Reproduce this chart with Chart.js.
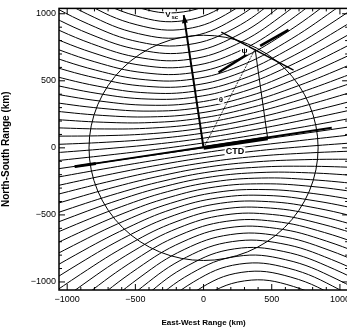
<!DOCTYPE html>
<html>
<head>
<meta charset="utf-8">
<script src="https://cdn.jsdelivr.net/npm/chart.js@4/dist/chart.umd.min.js"></script>
<style>
html, body { margin: 0; padding: 0; background: #fff; overflow: hidden; width: 347px; height: 332px; }
</style>
</head>
<body>
<canvas id="grafico" width="354" height="332"></canvas>
<script>
// isolinhas, pontos [x km, y km]
var isolinhaZero = [[-1088, -159], [1088, 159]];

var isolinhasNorte = [
    [[-1097, -98], [-700, -54], [-352, -12], [-5, 36], [340, 90], [686, 148], [1079, 220], [1571, 311]],
    [[-1106, -38], [-707, -6], [-357, 27], [-10, 71], [335, 129], [679, 196], [1070, 280], [1560, 390]],
    [[-1115, 24], [-714, 42], [-363, 67], [-16, 108], [329, 169], [672, 244], [1061, 342], [1548, 472]],
    [[-1124, 87], [-721, 91], [-369, 107], [-21, 145], [323, 209], [665, 293], [1052, 405], [1536, 554]],
    [[-1133, 151], [-728, 141], [-375, 148], [-27, 182], [317, 250], [658, 343], [1043, 469], [1524, 638]],
    [[-1143, 215], [-736, 191], [-381, 189], [-32, 220], [311, 291], [650, 393], [1034, 533], [1511, 722]],
    [[-1152, 280], [-743, 242], [-387, 231], [-38, 258], [305, 333], [643, 444], [1024, 598], [1499, 809]],
    [[-1162, 347], [-751, 295], [-393, 274], [-44, 298], [299, 376], [635, 497], [1014, 665], [1486, 897]],
    [[-1172, 416], [-759, 349], [-400, 318], [-49, 338], [292, 420], [627, 551], [1004, 734], [1473, 988]],
    [[-1182, 487], [-767, 404], [-407, 364], [-55, 380], [286, 466], [619, 606], [994, 805], [1459, 1081]],
    [[-1193, 559], [-775, 460], [-413, 410], [-62, 423], [279, 512], [611, 662], [983, 877], [1445, 1176]],
    [[-1204, 635], [-784, 520], [-420, 459], [-68, 467], [272, 561], [602, 722], [972, 953], [1431, 1275]],
    [[-1215, 713], [-792, 580], [-428, 508], [-75, 513], [264, 610], [594, 782], [961, 1031], [1416, 1377]],
    [[-1227, 793], [-802, 643], [-435, 560], [-82, 560], [257, 662], [584, 845], [949, 1111], [1400, 1483]],
    [[-1239, 877], [-811, 709], [-443, 614], [-89, 610], [249, 716], [575, 911], [937, 1195], [1384, 1594]],
    [[-1252, 965], [-821, 777], [-451, 670], [-97, 661], [241, 772], [565, 979], [924, 1283], [1367, 1709]],
    [[-1265, 1056], [-832, 848], [-460, 729], [-104, 714], [232, 831], [555, 1050], [911, 1374], [1350, 1829]],
    [[-1279, 1150], [-842, 922], [-469, 789], [-112, 770], [223, 891], [544, 1124], [897, 1468], [1332, 1952]],
    [[-1293, 1248], [-853, 998], [-478, 852], [-121, 827], [214, 954], [533, 1200], [883, 1566], [1313, 2081]],
    [[-1308, 1348], [-865, 1077], [-487, 917], [-129, 887], [205, 1019], [521, 1279], [868, 1666], [1294, 2214]],
    [[-1323, 1454], [-877, 1160], [-497, 985], [-139, 949], [195, 1087], [509, 1362], [853, 1772], [1273, 2353]],
    [[-1340, 1566], [-890, 1247], [-508, 1056], [-148, 1014], [185, 1158], [496, 1449], [836, 1884], [1252, 2499]]
];

var isolinhasSul = [
    [[-1566, -310], [-1074, -219], [-681, -148], [-335, -89], [11, -35], [357, 13], [705, 54], [1102, 99]],
    [[-1549, -389], [-1060, -279], [-669, -194], [-324, -127], [21, -70], [368, -25], [718, 8], [1116, 39]],
    [[-1532, -470], [-1045, -340], [-656, -242], [-313, -166], [32, -106], [379, -64], [730, -40], [1131, -22]],
    [[-1514, -551], [-1031, -402], [-643, -290], [-301, -206], [43, -141], [391, -104], [743, -88], [1146, -84]],
    [[-1496, -634], [-1016, -465], [-630, -339], [-290, -246], [54, -178], [402, -144], [756, -137], [1161, -147]],
    [[-1478, -717], [-1001, -528], [-618, -388], [-278, -286], [65, -215], [414, -184], [769, -186], [1175, -210]],
    [[-1460, -803], [-985, -592], [-604, -439], [-266, -327], [76, -253], [426, -225], [782, -237], [1191, -274]],
    [[-1441, -891], [-969, -659], [-591, -490], [-254, -370], [88, -291], [438, -268], [795, -288], [1207, -341]],
    [[-1422, -980], [-953, -727], [-577, -543], [-241, -413], [100, -331], [451, -311], [809, -341], [1223, -409]],
    [[-1402, -1072], [-937, -797], [-562, -598], [-229, -457], [112, -372], [464, -355], [824, -396], [1239, -479]],
    [[-1382, -1167], [-920, -868], [-548, -653], [-215, -503], [125, -413], [477, -401], [838, -451], [1256, -550]],
    [[-1361, -1265], [-902, -943], [-532, -711], [-202, -551], [138, -457], [490, -449], [854, -509], [1274, -625]],
    [[-1339, -1366], [-884, -1019], [-517, -771], [-188, -599], [152, -501], [505, -497], [869, -569], [1292, -701]],
    [[-1316, -1471], [-865, -1099], [-500, -833], [-173, -650], [166, -548], [519, -548], [886, -631], [1311, -781]],
    [[-1293, -1581], [-845, -1182], [-483, -898], [-158, -703], [180, -596], [535, -601], [903, -696], [1331, -864]],
    [[-1268, -1695], [-825, -1268], [-466, -965], [-142, -758], [196, -647], [550, -656], [920, -763], [1351, -950]],
    [[-1243, -1813], [-804, -1358], [-447, -1035], [-125, -815], [211, -699], [567, -713], [939, -833], [1372, -1040]],
    [[-1216, -1936], [-782, -1451], [-428, -1107], [-108, -874], [228, -753], [584, -772], [958, -905], [1395, -1133]],
    [[-1189, -2063], [-759, -1547], [-409, -1182], [-90, -936], [245, -809], [602, -834], [978, -980], [1417, -1229]],
    [[-1161, -2194], [-735, -1647], [-388, -1260], [-72, -999], [262, -867], [620, -897], [998, -1058], [1441, -1329]],
    [[-1131, -2332], [-710, -1752], [-367, -1341], [-53, -1066], [281, -928], [640, -964], [1019, -1139], [1466, -1434]],
    [[-1100, -2477], [-684, -1861], [-344, -1426], [-32, -1136], [300, -992], [660, -1034], [1042, -1224], [1492, -1543]]
];

var circuloCentro = [0, 0];
var circuloRaio = 840;

var linhaCTD = [[-945, -140], [940, 150]];
var trechoCTD = [[0, 0], [470, 72]];
var trechoEsq = [[-945, -140], [-790, -117]];
var vetorVsc = [[0, 0], [-145, 990]];
var linhaTheta = [[0, 0], [378, 737]];
var linhaVertical = [[378, 737], [470, 72]];
var tangente = [[130, 863], [660, 580]];
var grossaA = [[110, 562], [330, 703]];
var grossaB = [[415, 760], [623, 880]];

var ticksX = [-1000, -500, 0, 500, 1000];
var ticksY = [-1000, -500, 0, 500, 1000];

function pontos(par) {
    return par.map(function (p) { return { x: p[0], y: p[1] }; });
}

var datasets = [];

function isolinha(par) {
    datasets.push({
        data: pontos(par),
        showLine: true,
        borderColor: "#000",
        borderWidth: 1,
        pointRadius: 0,
        tension: 0.4
    });
}

isolinha(isolinhaZero);
isolinhasNorte.forEach(isolinha);
isolinhasSul.forEach(isolinha);

function reta(par, largura, tracejado) {
    datasets.push({
        data: pontos(par),
        showLine: true,
        borderColor: "#000",
        borderWidth: largura,
        borderDash: tracejado || [],
        pointRadius: 0
    });
}

reta(linhaCTD, 2);
reta(trechoCTD, 4);
reta(trechoEsq, 3);
reta(vetorVsc, 2);
reta(linhaTheta, 0.8, [2, 1]);
reta(linhaVertical, 1);
reta(tangente, 1.5);
reta(grossaA, 2.5);
reta(grossaB, 2.5);

var fonte = "'Liberation Sans', Arial, sans-serif";

var desenhos = {
    id: "desenhos",
    afterDatasetsDraw: function (chart) {
        var ctx = chart.ctx;
        var sx = chart.scales.x;
        var sy = chart.scales.y;
        var a = chart.chartArea;

        ctx.save();
        ctx.beginPath();
        ctx.rect(a.left, a.top, a.right - a.left, a.bottom - a.top);
        ctx.clip();

        // circulo
        var cx = sx.getPixelForValue(circuloCentro[0]);
        var cy = sy.getPixelForValue(circuloCentro[1]);
        var rx = sx.getPixelForValue(circuloCentro[0] + circuloRaio) - cx;
        var ry = cy - sy.getPixelForValue(circuloCentro[1] + circuloRaio);
        ctx.strokeStyle = "#000";
        ctx.lineWidth = 1;
        ctx.beginPath();
        ctx.ellipse(cx, cy, rx, ry, 0, 0, Math.PI * 2);
        ctx.stroke();

        // ponta da seta Vsc
        var x0 = sx.getPixelForValue(vetorVsc[0][0]);
        var y0 = sy.getPixelForValue(vetorVsc[0][1]);
        var x1 = sx.getPixelForValue(vetorVsc[1][0]);
        var y1 = sy.getPixelForValue(vetorVsc[1][1]);
        var ang = Math.atan2(y1 - y0, x1 - x0);
        ctx.fillStyle = "#000";
        ctx.beginPath();
        ctx.moveTo(x1, y1);
        ctx.lineTo(x1 - 8 * Math.cos(ang) + 3 * Math.sin(ang), y1 - 8 * Math.sin(ang) - 3 * Math.cos(ang));
        ctx.lineTo(x1 - 8 * Math.cos(ang) - 3 * Math.sin(ang), y1 - 8 * Math.sin(ang) + 3 * Math.cos(ang));
        ctx.closePath();
        ctx.fill();

        // textos com fundo branco
        function rotulo(txt, x, y, tam) {
            ctx.font = "bold " + tam + "px " + fonte;
            var w = ctx.measureText(txt).width;
            var px = sx.getPixelForValue(x);
            var py = sy.getPixelForValue(y);
            ctx.fillStyle = "#fff";
            ctx.fillRect(px - w / 2 - 1, py - tam / 2, w + 2, tam);
            ctx.fillStyle = "#000";
            ctx.textAlign = "center";
            ctx.textBaseline = "middle";
            ctx.fillText(txt, px, py);
        }
        rotulo("V", -262, 990, 8);
        ctx.font = "bold 6px " + fonte;
        ctx.textAlign = "left";
        ctx.fillText("sc", sx.getPixelForValue(-235), sy.getPixelForValue(972));
        rotulo("θ", 128, 358, 8);
        rotulo("ψ", 300, 725, 8);
        rotulo("CTD", 230, -25, 9);
        ctx.restore();

        // moldura e marcas
        ctx.save();
        ctx.strokeStyle = "#000";
        ctx.lineWidth = 1.5;
        ctx.strokeRect(a.left, a.top, a.right - a.left, a.bottom - a.top);
        ctx.lineWidth = 1;
        ctx.beginPath();
        for (var v = -1000; v <= 1000; v += 100) {
            var t = (v % 500 === 0) ? 6 : 3;
            var px = sx.getPixelForValue(v);
            if (px > a.left && px < a.right) {
                ctx.moveTo(px, a.bottom); ctx.lineTo(px, a.bottom - t);
                ctx.moveTo(px, a.top); ctx.lineTo(px, a.top + t);
            }
            var py = sy.getPixelForValue(v);
            if (py > a.top && py < a.bottom) {
                ctx.moveTo(a.left, py); ctx.lineTo(a.left + t, py);
                ctx.moveTo(a.right, py); ctx.lineTo(a.right - t, py);
            }
        }
        ctx.stroke();
        ctx.restore();
    }
};

new Chart(document.getElementById("grafico"), {
    type: "scatter",
    data: { datasets: datasets },
    options: {
        responsive: false,
        animation: false,
        events: [],
        layout: { autoPadding: false, padding: { top: 8, right: 2, left: 0, bottom: 0 } },
        plugins: { legend: { display: false }, tooltip: { enabled: false } },
        scales: {
            x: {
                type: "linear",
                min: -1060,
                max: 1060,
                afterFit: function (s) { s.height = 42; },
                afterBuildTicks: function (s) { s.ticks = ticksX.map(function (v) { return { value: v }; }); },
                grid: { display: false, drawTicks: false },
                border: { display: false },
                ticks: {
                    color: "#000",
                    padding: 4,
                    maxRotation: 0,
                    font: { family: fonte, size: 9 },
                    callback: function (v) { return v < 0 ? "\u2212" + (-v) : String(v); }
                },
                title: {
                    display: true,
                    text: "East-West Range (km)",
                    color: "#000",
                    font: { family: fonte, size: 8, weight: "bold" },
                    padding: { top: 0, bottom: 4 }
                }
            },
            y: {
                type: "linear",
                min: -1060,
                max: 1040,
                afterFit: function (s) { s.width = 59; },
                afterBuildTicks: function (s) { s.ticks = ticksY.map(function (v) { return { value: v }; }); },
                grid: { display: false, drawTicks: false },
                border: { display: false },
                ticks: {
                    color: "#000",
                    padding: 3,
                    font: { family: fonte, size: 9 },
                    callback: function (v) { return v < 0 ? "\u2212" + (-v) : String(v); }
                },
                title: {
                    display: true,
                    text: "North-South Range (km)",
                    color: "#000",
                    font: { family: fonte, size: 10, weight: "bold" },
                    padding: { top: 0, bottom: 14 }
                }
            }
        }
    },
    plugins: [desenhos]
});
</script>
</body>
</html>
